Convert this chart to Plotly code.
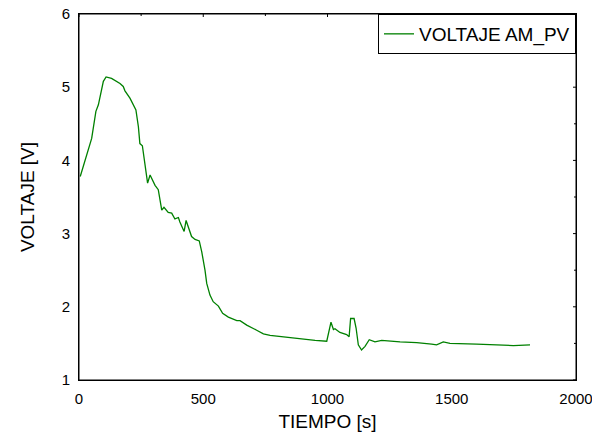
import plotly.graph_objects as go

tiempo = [5, 24, 37, 51, 68, 78, 98, 109, 131, 145, 165, 178, 185, 205, 229, 239, 245, 255, 266, 276,
          286, 306, 319, 333, 342, 359, 373, 386, 400, 406, 423, 431, 453, 467, 484, 494, 507, 514, 527,
          540, 561, 578, 601, 635, 648, 675, 715, 742, 769, 795, 836, 876, 916, 950, 997, 1014, 1024,
          1030, 1050, 1077, 1087, 1093, 1107, 1115, 1124, 1137, 1151, 1168, 1191, 1218, 1292, 1359,
          1419, 1439, 1466, 1493, 1600, 1694, 1748, 1815]
voltaje = [3.78, 4.00, 4.14, 4.30, 4.67, 4.76, 5.08, 5.14, 5.12, 5.09, 5.05, 5.01, 4.95, 4.85, 4.69,
           4.46, 4.23, 4.20, 3.94, 3.69, 3.80, 3.66, 3.60, 3.32, 3.36, 3.29, 3.28, 3.20, 3.22, 3.16,
           3.03, 3.18, 2.96, 2.92, 2.90, 2.75, 2.50, 2.32, 2.16, 2.07, 2.01, 1.91, 1.86, 1.81, 1.81,
           1.75, 1.68, 1.63, 1.61, 1.60, 1.58, 1.56, 1.55, 1.54, 1.53, 1.79, 1.69, 1.70, 1.65, 1.62,
           1.59, 1.84, 1.84, 1.71, 1.48, 1.41, 1.46, 1.55, 1.52, 1.54, 1.52, 1.51, 1.49, 1.48, 1.52,
           1.50, 1.49, 1.48, 1.47, 1.48]

x_range = [0, 2000]
y_range = [1, 6]
x_ticks = [0, 500, 1000, 1500, 2000]
x_minor = [250, 750, 1250, 1750]
y_ticks = [1, 2, 3, 4, 5, 6]
y_minor = [1.5, 2.5, 3.5, 4.5, 5.5]

green = "#008000"
font = "Liberation Sans, Arial, sans-serif"

W, H = 592, 440
M = dict(l=79, r=16, t=14, b=60)
ux = (x_range[1] - x_range[0]) / (W - M["l"] - M["r"])
uy = (y_range[1] - y_range[0]) / (H - M["t"] - M["b"])

x0, x1 = x_range
y0, y1 = y_range
fx, fy = [], []
# frame as separate segments
for (ax, ay, bx, by) in ((x0, y0, x1, y0), (x1, y0, x1, y1), (x1, y1, x0, y1), (x0, y1, x0, y0)):
    fx += [ax, bx, None]
    fy += [ay, by, None]
for vals, lo, li in ((x_ticks, 5, 3), (x_minor, 3, 2)):
    for v in vals:
        fx += [v, v, None, v, v, None]
        fy += [y0, y0 - lo * uy, None, y1, y1 - li * uy, None]
for vals, lo, li in ((y_ticks, 5, 3), (y_minor, 3, 2)):
    for v in vals:
        fx += [x0, x0 - lo * ux, None, x1, x1 - li * ux, None]
        fy += [v, v, None, v, v, None]

fig = go.Figure()
fig.add_trace(go.Scatter(x=tiempo, y=voltaje, mode="lines", name="VOLTAJE AM_PV",
                         line=dict(color=green, width=1.3)))
fig.add_trace(go.Scatter(x=fx, y=fy, mode="lines", line=dict(color="black", width=1),
                         showlegend=False, hoverinfo="skip", cliponaxis=False,
                         connectgaps=False))

axis_common = dict(ticks="outside", ticklen=5, tickcolor="rgba(0,0,0,0)", showline=True,
                   linecolor="black", linewidth=1, mirror=True,
                   showgrid=False, zeroline=False, automargin=False, ticklabeloverflow="allow")

fig.update_layout(
    width=W, height=H,
    margin=dict(**M, autoexpand=False),
    paper_bgcolor="white", plot_bgcolor="white",
    font=dict(family=font, size=15, color="black"),
    xaxis=dict(range=x_range, tickvals=x_ticks, **axis_common,
               title=dict(text="TIEMPO [s]", font=dict(size=19), standoff=8)),
    yaxis=dict(range=y_range, tickvals=y_ticks, **axis_common,
               title=dict(text="VOLTAJE [V]", font=dict(size=19), standoff=22)),
    legend=dict(x=1, y=1, xanchor="right", yanchor="top", bordercolor="black", borderwidth=1,
                bgcolor="white", font=dict(size=19)),
    showlegend=True,
)

fig.write_html("out.html")
